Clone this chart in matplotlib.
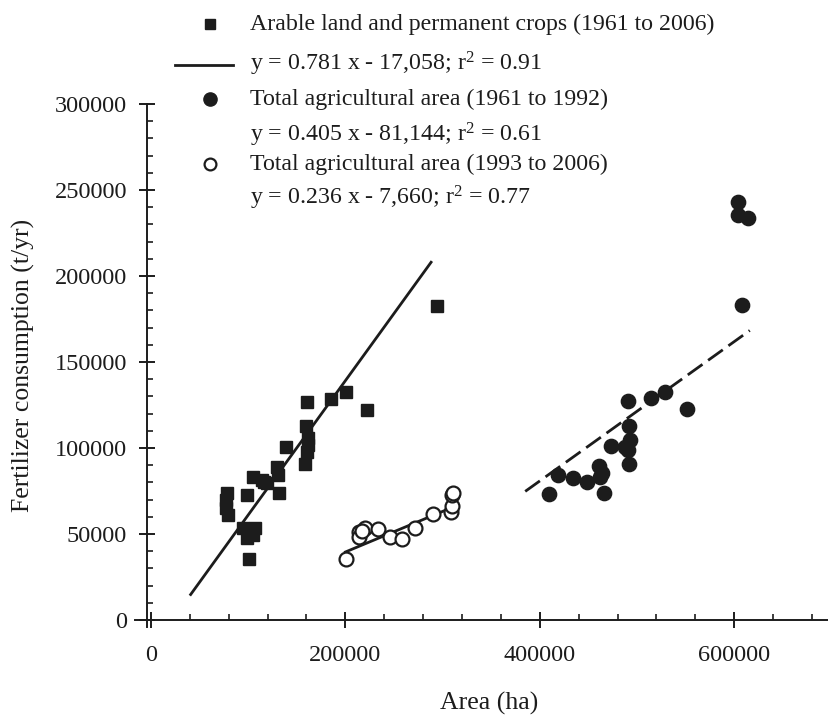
import numpy as np
import matplotlib
matplotlib.use("Agg")
import matplotlib.pyplot as plt
from matplotlib.lines import Line2D
from matplotlib.ticker import MultipleLocator

plt.rcParams['font.family'] = ['Liberation Serif', 'DejaVu Serif']
plt.rcParams['mathtext.fontset'] = 'custom'
plt.rcParams['mathtext.rm'] = 'Liberation Serif'
plt.rcParams['mathtext.it'] = 'Liberation Serif:italic'

INK = '#1c1c1c'

# arable land and permanent crops (1961 to 2006), area in ha, fertilizer in t/yr
arable_x = [159500, 161800, 161800, 160200, 138900, 158400, 129300, 131000, 105200, 113900,
            119000, 132000, 99100, 77900, 77200, 77200, 79500, 95000, 107000, 98500,
            105200, 101100, 160200, 184900, 200300, 221900, 294500, 116500, 100500]
arable_y = [112800, 105600, 101700, 97800, 100800, 90500, 89100, 84300, 83300, 81400,
            79500, 73700, 72700, 73700, 69800, 64900, 61000, 53300, 53300, 47500,
            49400, 35300, 126600, 128300, 132400, 122100, 182600, 80200, 51000]

# total agricultural area (1961 to 1992)
total_early_x = [409500, 419000, 433800, 448900, 461200, 463700, 461900, 466400, 473300, 487700,
                 492800, 491000, 492100, 491800, 490400, 514400, 528800, 551100, 604200, 604200,
                 614500, 608300]
total_early_y = [73100, 84300, 82700, 80100, 89500, 85300, 83100, 74000, 101200, 100800,
                 104700, 98800, 112800, 90700, 127300, 128900, 132700, 122700, 243200, 235500,
                 233500, 183100]

# total agricultural area (1993 to 2006)
total_late_x = [200300, 214300, 214300, 220200, 233800, 245900, 258500, 271600, 290400, 308300,
                309400, 309400, 310400, 217000]
total_late_y = [35300, 51300, 48400, 53300, 52900, 48100, 46900, 53300, 61500, 62600,
                66300, 72700, 73700, 51700]

# regression lines: slope, intercept, x range
fit_arable = (0.781, -17058, 40000, 289000)
fit_early = (0.405, -81144, 385000, 616000)
fit_late = (0.236, -7660, 200000, 310000)

legend_rows = [
    'Arable land and permanent crops (1961 to 2006)',
    'y = 0.781 x - 17,058; r$^2$ = 0.91',
    'Total agricultural area (1961 to 1992)',
    'y = 0.405 x - 81,144; r$^2$ = 0.61',
    'Total agricultural area (1993 to 2006)',
    'y = 0.236 x - 7,660; r$^2$ = 0.77',
]

x_ticks = [0, 200000, 400000, 600000]
y_ticks = [0, 50000, 100000, 150000, 200000, 250000, 300000]

W, H = 829, 716
fig = plt.figure(figsize=(W / 100, H / 100), dpi=100)
ax = fig.add_axes([135.4 / W, 1 - 626.9 / H, 693.6 / W, 522.9 / H])


def fit_line(fit):
    k, b, x0, x1 = fit
    xs = np.array([x0, x1])
    return xs, k * xs + b


xs, ys = fit_line(fit_arable)
ax.plot(xs, ys, color=INK, lw=2.0, solid_capstyle='butt', zorder=2)
xs, ys = fit_line(fit_early)
ax.plot(xs, ys, color=INK, lw=2.0, dashes=(6.5, 2.5), zorder=2)
xs, ys = fit_line(fit_late)
ax.plot(xs, ys, color=INK, lw=2.0, zorder=2)

ax.plot(arable_x, arable_y, 's', ms=8.8, color=INK, mec=INK, ls='none', zorder=3)
ax.plot(total_early_x, total_early_y, 'o', ms=10.3, color=INK, mec=INK, ls='none', zorder=3)
ax.plot(total_late_x, total_late_y, 'o', ms=10, mfc='white', mec=INK, mew=1.6, ls='none', zorder=3)

ax.set_xlim(-16000, 697500)
ax.set_ylim(-4000, 300000)

for s in ['top', 'right']:
    ax.spines[s].set_visible(False)
ax.spines['left'].set_position(('data', -4000))
ax.spines['bottom'].set_position(('data', 0))
for s in ['left', 'bottom']:
    ax.spines[s].set_linewidth(1.4)
    ax.spines[s].set_color(INK)

ax.set_xticks(x_ticks)
ax.set_xticklabels([str(v) for v in x_ticks])
ax.set_yticks(y_ticks)
ax.set_yticklabels([str(v) for v in y_ticks])
ax.xaxis.set_minor_locator(MultipleLocator(40000))
ax.yaxis.set_minor_locator(MultipleLocator(10000))
ax.tick_params(which='major', direction='inout', length=11.5, width=1.4, color=INK,
               labelsize=17.5, labelcolor=INK)
ax.tick_params(axis='y', which='major', pad=8.6)
ax.tick_params(axis='x', which='major', pad=12)
ax.tick_params(which='minor', direction='in', length=4.5, width=1.2, color=INK)

ax.set_xlabel('Area (ha)', fontsize=18.5, color=INK)
ax.set_ylabel('Fertilizer consumption (t/yr)', fontsize=18.5, color=INK)
ax.xaxis.set_label_coords(0.51, -0.124)
ax.yaxis.set_label_coords(-0.1448, 0.5)

# legend block drawn in figure pixels
row_y = [24, 64, 99, 135, 164, 198]
text_x = 250
marker_x = 210


def fy(py):
    return 1 - py / H


fig.add_artist(Line2D([marker_x / W], [fy(row_y[0])], marker='s', ms=7.5, color=INK,
                      transform=fig.transFigure))
fig.add_artist(Line2D([175 / W, 233 / W], [fy(row_y[1] + 1)] * 2, lw=2.0, color=INK,
                      transform=fig.transFigure))
fig.add_artist(Line2D([marker_x / W], [fy(row_y[2])], marker='o', ms=9.5, color=INK,
                      transform=fig.transFigure))
fig.add_artist(Line2D([marker_x / W], [fy(row_y[4])], marker='o', ms=8.5, mfc='white',
                      mec=INK, mew=1.6, transform=fig.transFigure))

for label, py in zip(legend_rows, row_y):
    fig.text(text_x / W, fy(py), label, fontsize=17.2, color=INK, ha='left', va='center')

fig.savefig('out.png', dpi=100)
